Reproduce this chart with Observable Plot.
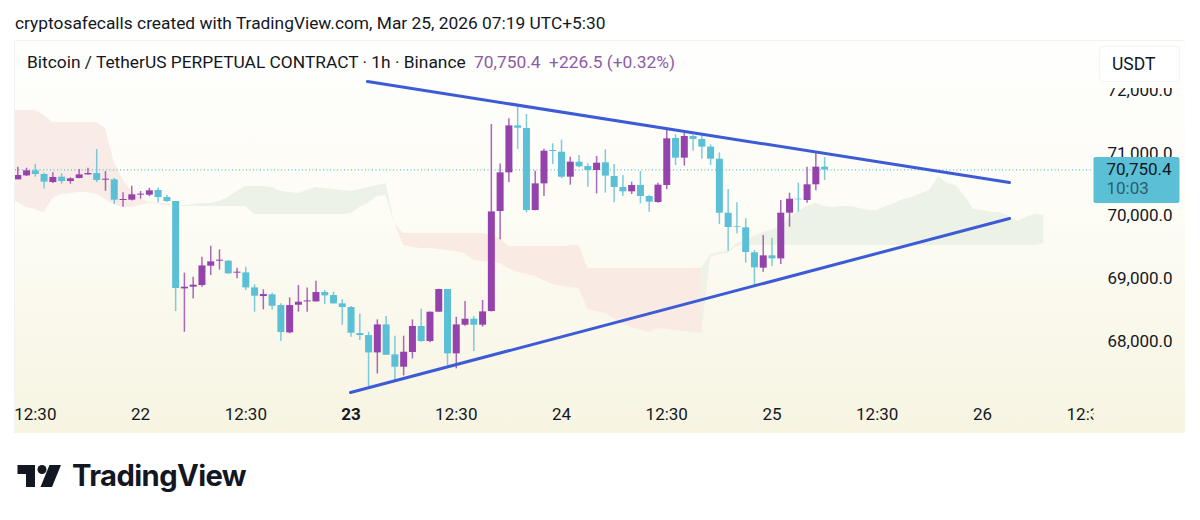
<!DOCTYPE html>
<html><head><meta charset="utf-8">
<script src="https://cdn.jsdelivr.net/npm/d3@7"></script>
<script src="https://cdn.jsdelivr.net/npm/@observablehq/plot@0.6"></script>
<style>
html,body{margin:0;padding:0;background:#fff;width:1200px;height:520px;overflow:hidden;font-family:Roboto,sans-serif;color:#131722}
#title{position:absolute;left:15px;top:11px;font-size:17.35px;line-height:24px;white-space:nowrap}
#pane{position:absolute;left:14px;top:40px;width:1171px;height:393px;background:linear-gradient(#fefefd 0%,#fdfcf5 45%,#f7f4e2 100%);box-shadow:inset 1px 1px 0 #f2f2f0}
#legend{position:absolute;left:27px;top:50px;font-size:17.35px;line-height:24px;white-space:nowrap}
#legend span{color:#8e5ba6;margin-left:4px}
#usdt{position:absolute;left:1099px;top:46px;width:79px;height:34px;background:#fff;border:1px solid #f4f4f2;border-radius:5px;font-size:17.5px;line-height:34px;text-indent:12px;box-shadow:0 6px 0 0 #fdfdfa}
#logo{position:absolute;left:0;top:450px}
#brand{position:absolute;left:72px;top:456px;font-family:Inter,sans-serif;font-weight:700;font-size:29.2px;line-height:40px;letter-spacing:-.6px;color:#131722}
</style></head><body>
<div id="title">cryptosafecalls created with TradingView.com, Mar 25, 2026 07:19 UTC+5:30</div>
<div id="pane"></div>
<div id="chart" style="position:absolute;left:14px;top:40px"></div>
<div id="legend">Bitcoin / TetherUS PERPETUAL CONTRACT · 1h · Binance <span>70,750.4&nbsp; +226.5 (+0.32%)</span></div>
<div id="usdt">USDT</div>
<svg id="logo" width="70" height="50" viewBox="0 450 70 50"><path fill="#131722" d="M17.5 465H35V487H26V474H17.5Z"/><circle fill="#131722" cx="42" cy="469.5" r="4.5"/><path fill="#131722" d="M49.5 465H61L52 487H40.5Z"/></svg>
<div id="brand">TradingView</div>
<script>
const open = [70592,70655,70735,70677,70549,70634,70565,70613,70671,70693,70586,70592,70263,70268,70348,70348,70422,70310,70247,68856,68883,68909,69217,69297,69297,69106,69111,68872,68734,68761,68591,68156,68596,68649,68649,68798,68750,68618,68559,68145,68113,67837,68283,67806,67609,67843,68257,68018,68485,68846,67822,68278,68373,68278,68495,70088,70703,71451,71409,70103,70528,71059,71032,70634,70873,70804,70741,70863,70645,70470,70401,70502,70327,70231,70502,71250,70937,71282,71234,71112,70921,70061,69844,69828,69430,69186,69382,69334,70061,70284,70263,70513,70794];
const close = [70661,70735,70677,70555,70629,70565,70608,70671,70693,70581,70602,70268,70279,70353,70364,70417,70310,70247,68862,68883,68915,69222,69286,69313,69095,69122,68872,68740,68766,68580,68161,68591,68644,68665,68798,68745,68618,68559,68150,68113,67837,68283,67800,67609,67848,68257,68018,68485,68846,67822,68283,68373,68278,68490,70082,70703,71451,71414,70103,70528,71048,71043,70634,70873,70799,70741,70857,70651,70470,70401,70502,70327,70237,70507,71245,70937,71282,71234,71112,70921,70061,69833,69833,69435,69191,69382,69334,70061,70284,70274,70513,70794,70750];
const high = [70793,70777,70836,70698,70703,70687,70624,70756,70777,71075,70724,70613,70385,70491,70406,70459,70464,70342,70247,69106,69042,69360,69536,69477,69307,69185,69201,68920,68840,68787,68618,68713,68909,68872,68978,68830,68803,68687,68575,68453,68166,68363,68416,68103,68103,68363,68533,68490,68851,68846,68405,68655,68416,68671,71473,70846,71563,71791,71632,70730,71080,71165,71223,70953,70979,70847,70964,71070,70836,70661,70555,70725,70343,70539,71378,71309,71335,71303,71309,71149,71022,70438,70226,69971,69467,69706,69663,70263,70380,70539,70794,71017,70948];
const low = [70592,70645,70634,70448,70533,70523,70523,70608,70666,70549,70411,70204,70157,70257,70284,70326,70226,70231,68495,68166,68697,68883,69069,69154,69090,69016,68830,68485,68522,68522,68018,68140,68485,68485,68649,68607,68612,68278,68087,68034,67301,67503,67795,67397,67471,67742,68007,67997,68485,67636,67583,68262,67859,68246,68490,69637,70549,71075,70066,70098,70326,70836,70613,70507,70783,70475,70369,70380,70226,70327,70359,70210,70077,70221,70433,70820,70810,71049,70921,70820,69881,69456,69732,69265,68894,69122,69212,69244,69839,70077,70221,70417,70582];

const redATop = [71696,71696,71696,71696,71616,71505,71505,71505,71505,71505,71505,71409,70868,70597,70406,70295,70231,70215,70215,70183];
const redABot = [70247,70231,70152,70120,70072,70295,70358,70374,70390,70390,70358,70279,70199,70152,70152,70183,70215,70199,70183,70183];
const greenATop = [70183,70183,70199,70215,70215,70247,70311,70406,70486,70486,70486,70470,70406,70390,70374,70422,70470,70454,70438,70422,70406,70438,70470,70502,70534,69881];
const greenABot = [70183,70167,70167,70167,70167,70167,70167,70167,70167,70040,70040,70040,70040,70040,70040,70040,70040,70040,70040,70040,70056,70152,70215,70327,70343,69881];
const redBTop = [69881,69738,69738,69738,69738,69738,69738,69738,69738,69738,69738,69706,69658,69531,69531,69531,69531,69531,69531,69531,69547,69547,69180,69180,69180,69180,69180,69180,69180,69180,69180,69180,69180,69180,69180,69180];
const redBBot = [69881,69547,69515,69499,69499,69483,69467,69451,69419,69308,69292,69276,69260,69180,69117,69085,69053,68989,68926,68894,68878,68862,68528,68496,68464,68384,68289,68241,68194,68162,68225,68209,68194,68177,68162,68146];
const greenBTop = [69180,69403,69435,69451,69578,69626,69690,69754,69786,69865,69976,70088,70167,70215,70167,70152,70167,70167,70136,70104,70104,70167,70215,70279,70311,70374,70422,70645,70534,70502,70327,70120,70104,70072,70072,70008,69929,69992,70040,70024];
const greenBBot = [68146,69356,69403,69419,69531,69547,69547,69547,69547,69547,69547,69547,69547,69547,69547,69547,69547,69547,69547,69547,69547,69547,69547,69547,69547,69547,69547,69547,69547,69547,69547,69547,69547,69547,69547,69547,69547,69547,69547,69578];

const upperLine = [{i:39.88,p:72157},{i:113.08,p:70549}];
const lowerLine = [{i:37.94,p:67206},{i:113.08,p:69977}];
const priceTicks = [68000,69000,70000,71000,72000];
const timeTicks = [2,14,26,50,62,74,86,98,110];
const timeLabels = ["12:30","22","12:30","12:30","24","12:30","25","12:30","26"];
const boldTick = 38, boldLabel = "23", cutTick = 122, cutLabel = "12:30";
const lastPrice = 70750.4;

const TEAL = "#5bbfd6", PURPLE = "#9642ad";
const candles = open.map((o,i)=>({i,o,c:close[i],h:high[i],l:low[i]}));
const cloud = (start,top,bot)=>top.map((t,k)=>({i:start+k,t,b:bot[k]}));
const color = d=>d.c>=d.o?PURPLE:TEAL;
const area = (data,fill)=>Plot.areaY(data,{x:"i",y1:"t",y2:"b",fill,clip:true});
const tick = (ticks,fmt,extra={})=>Plot.axisX({ticks,tickFormat:fmt,tickSize:0,tickPadding:12,label:null,fontSize:17,...extra});

const priceTag = (index,scales,values,dims)=>{
  const g = d3.create("svg:g").attr("text-anchor","start");
  const x = dims.width-dims.marginRight+.5, y = scales.y(lastPrice);
  g.append("rect").attr("x",x).attr("y",y-12.4).attr("width",86).attr("height",46).attr("rx",2).attr("fill",TEAL);
  g.append("text").attr("x",x+13).attr("y",y+5.5).attr("fill","#131722").attr("font-size",17).text(d3.format(",.1f")(lastPrice));
  g.append("text").attr("x",x+13).attr("y",y+24.5).attr("fill","#2c5c6c").attr("font-size",17).text("10:03");
  return g.node();
};

const plot = Plot.plot({
  width:1171,height:393,marginLeft:1,marginRight:92,marginTop:0,marginBottom:38,
  style:{background:"transparent",fontFamily:"Roboto",fontSize:"16px",color:"#131722",overflow:"visible"},
  x:{type:"linear",domain:[-0.26,122.66]},
  y:{type:"linear",domain:[67159,72810]},
  marks:[
    area(cloud(-1,redATop,redABot),"#f9ebe6"),
    area(cloud(18,greenATop,greenABot),"#ecf2e6"),
    area(cloud(43,redBTop,redBBot),"#f9ebe3"),
    area(cloud(78,greenBTop,greenBBot),"#ecf2e6"),
    Plot.ruleY([lastPrice],{stroke:TEAL,strokeDasharray:"1,2.5",strokeWidth:1.2}),
    Plot.ruleX(candles,{x:"i",y1:"l",y2:"h",stroke:color,strokeWidth:1.5,strokeOpacity:.8,clip:true}),
    Plot.ruleX(candles,{x:"i",y1:"o",y2:"c",stroke:color,strokeWidth:7,clip:true}),
    Plot.line(upperLine,{x:"i",y:"p",stroke:"#3c5bd4",strokeWidth:3}),
    Plot.line(lowerLine,{x:"i",y:"p",stroke:"#3c5bd4",strokeWidth:3}),
    tick(timeTicks,d=>timeLabels[timeTicks.indexOf(d)]),
    tick([boldTick],()=>boldLabel,{fontWeight:"bold"}),
    tick([cutTick],()=>cutLabel,{render:(i,s,v,d,c,next)=>{const n=next(i,s,v,d,c);n.setAttribute("clip-path","url(#cutTime)");return n;}}),
    Plot.axisY({anchor:"right",ticks:priceTicks,tickFormat:d3.format(",.1f"),tickSize:0,tickPadding:14,label:null,fontSize:17,dy:-1}),
    priceTag
  ]
});
const defs = d3.select(plot).append("defs").append("clipPath").attr("id","cutTime");
defs.append("rect").attr("x",0).attr("y",0).attr("width",1079).attr("height",393);
document.getElementById("chart").appendChild(plot);
</script>
</body></html>
